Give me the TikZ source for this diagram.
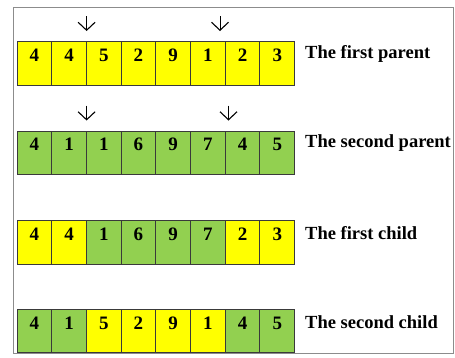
\documentclass[tikz,border=0pt]{standalone}
\usepackage{fontspec}
\setmainfont{Liberation Serif}
\usetikzlibrary{arrows.meta}
\definecolor{cyel}{HTML}{FFFF00}
\definecolor{cgrn}{HTML}{92D050}
\definecolor{cframe}{HTML}{8C8C8C}
\definecolor{cedge}{HTML}{3A3A3A}
\begin{document}
\begin{tikzpicture}[x=1pt,y=-1pt,
  cellbox/.style={draw=cedge,line width=0.9pt,minimum width=34.7pt,minimum height=43.3pt,
    inner sep=0pt,outer sep=0pt,anchor=north west},
  yel/.style={cellbox,fill=cyel},
  grn/.style={cellbox,fill=cgrn},
  digit/.style={font=\fontsize{19}{19}\selectfont\bfseries,inner sep=0pt},
  lbl/.style={font=\fontsize{18.5}{20}\selectfont\bfseries,anchor=west,inner sep=0pt},
  cut/.style={line width=1pt,-{Straight Barb[length=8pt,width=17pt,line width=1.1pt]}}]
\useasboundingbox (0,0) rectangle (455,357);
\fill[white] (0,0) rectangle (455,357);
\draw[cframe,line width=1pt] (13.5,7) rectangle (453,353.5);
% rows
\foreach \r/\y/\vals/\cols/\txt in {
  1/41.7/{4,4,5,2,9,1,2,3}/{yel,yel,yel,yel,yel,yel,yel,yel}/The first parent,
  2/131/{4,1,1,6,9,7,4,5}/{grn,grn,grn,grn,grn,grn,grn,grn}/The second parent,
  3/220.7/{4,4,1,6,9,7,2,3}/{yel,yel,grn,grn,grn,grn,yel,yel}/The first child,
  4/309.5/{4,1,5,2,9,1,4,5}/{grn,grn,yel,yel,yel,yel,grn,grn}/The second child}{
  \foreach \v [count=\i] in \vals {
    \pgfmathsetmacro{\xx}{17+34.7*(\i-1)}
    \foreach \c [count=\j] in \cols {
      \ifnum\j=\i
        \node[\c] (c\r-\i) at (\xx,\y) {};
      \fi
    }
    \node[digit] (d\r-\i) at (\xx+17.35,\y+13.5) {\v};
  }
  \node[lbl] (l\r) at (305,\y+12.5) {\txt};
}
% cut-point arrows
\coordinate (a1s) at (86.6,16); \coordinate (a1e) at (86.6,31);
\coordinate (a2s) at (220,16);  \coordinate (a2e) at (220,31);
\coordinate (b1s) at (86.6,105.5); \coordinate (b1e) at (86.6,120.5);
\coordinate (b2s) at (228.5,105.5); \coordinate (b2e) at (228.5,120.5);
\draw[cut] (a1s) -- (a1e);
\draw[cut] (a2s) -- (a2e);
\draw[cut] (b1s) -- (b1e);
\draw[cut] (b2s) -- (b2e);
\end{tikzpicture}
\end{document}
